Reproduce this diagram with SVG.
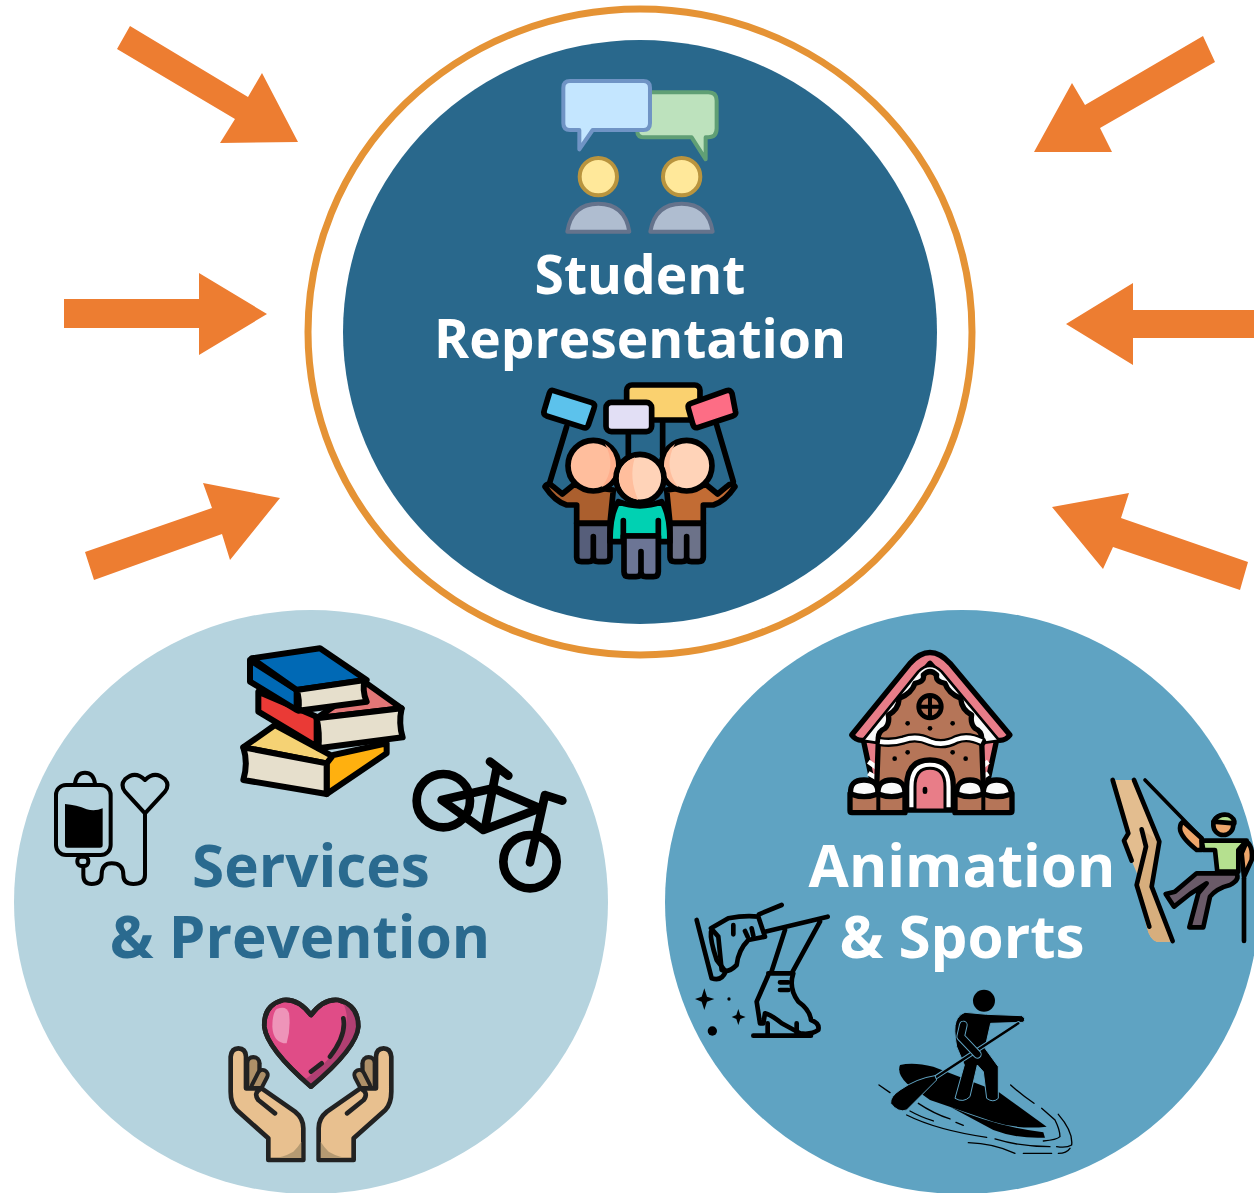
<svg xmlns="http://www.w3.org/2000/svg" width="1254" height="1193" viewBox="0 0 1254 1193">
<style>
text{font-family:"Open Sans","Noto Sans","Liberation Sans",sans-serif;font-weight:700;text-anchor:middle;font-size:58.4px}
.t{font-size:53.3px}
.w{fill:#fff}.d{fill:#2a6a8f}
.a{fill:#ed7d31}
.l{stroke:#000;stroke-linecap:round;stroke-linejoin:round;fill:none}
.f{stroke:#000;stroke-linecap:round;stroke-linejoin:round}
</style>
<rect width="1254" height="1193" fill="#fff"/>
<g id="connectors">
<polygon class="a" points="130,26 248,97 262,73 298,142 220,143 235,119 117,49"/>
<polygon class="a" points="64,299 199,299 199,273 267,314 199,355 199,328 64,328"/>
<polygon class="a" points="85,552 212,508 203,483 280,498 230,560 222,534 94,580"/>
<polygon class="a" points="1203,36 1215,62 1100,128 1112,152 1034,152 1072,83 1085,105"/>
<polygon class="a" points="1254,310 1133,310 1133,283 1066,324 1133,365 1133,338 1254,338"/>
<polygon class="a" points="1248,562 1240,590 1113,547 1103,569 1052,507 1129,493 1121,518"/>
</g>
<g id="student-representation">
<ellipse cx="640" cy="332" rx="332" ry="323" fill="#fff" stroke="#e59335" stroke-width="7"/>
<ellipse cx="640" cy="332" rx="297" ry="292" fill="#29688c"/>
<g id="icon-chat" transform="translate(530 60) scale(.3333)" stroke-linejoin="round">
<path d="M345 97H535Q560 97 560 122V205Q560 232 535 232H527V298L485 232H345Q322 232 322 215V110Q322 97 345 97Z" fill="#bde2bd" stroke="#609f75" stroke-width="12"/>
<path d="M120 63H340Q360 63 360 83V190Q360 210 340 210H188L148 268V210H120Q100 210 100 190V83Q100 63 120 63Z" fill="#c4e6ff" stroke="#7094c5" stroke-width="12"/>
<circle cx="205" cy="350" r="56" fill="#ffe89a" stroke="#b9943e" stroke-width="12"/>
<circle cx="455" cy="350" r="56" fill="#ffe89a" stroke="#b9943e" stroke-width="12"/>
<path d="M112 515Q125 431 205 431Q285 431 298 515Z" fill="#afbdd0" stroke="#65738c" stroke-width="12"/>
<path d="M361 515Q375 431 455 431Q535 431 548 515Z" fill="#afbdd0" stroke="#65738c" stroke-width="12"/>
</g>
<g id="icon-protest" transform="translate(530 370) scale(.3333)" stroke-width="17">
<path class="l" d="M110 170L60 335M295 185V255M398 150V255M560 165L610 335"/>
<rect class="f" x="290" y="45" width="220" height="105" rx="16" fill="#fad16f"/>
<path class="f" d="M70 62L185 98Q197 103 192 115L175 165Q170 177 158 172L50 138Q38 133 43 120L58 70Q62 58 70 62Z" fill="#5cc2ec"/>
<rect class="f" x="228" y="97" width="137" height="88" rx="16" fill="#e2dff5"/>
<path class="f" d="M483 100L590 62Q602 58 606 70L616 122Q620 134 608 138L505 172Q493 176 489 164L475 115Q472 104 483 100Z" fill="#fd6d85"/>
<path class="f" d="M45 350Q55 335 70 350L97 372L130 345L250 360L240 460H140V405H110Q75 395 45 350Z" fill="#ab5f2e"/>
<path class="f" d="M615 350Q605 335 590 350L563 372L530 345L410 360L420 460H520V405H550Q585 395 615 350Z" fill="#c26c34"/>
<path class="f" d="M140 460H240V562Q240 575 225 575H205Q190 575 190 562V500V562Q190 575 175 575H155Q140 575 140 562Z" fill="#565e7a"/>
<path class="f" d="M420 460H520V562Q520 575 505 575H485Q470 575 470 562V500V562Q470 575 455 575H435Q420 575 420 562Z" fill="#6c7289"/>
<circle class="f" cx="190" cy="287" r="76" fill="#ffbe9d"/>
<path d="M225 222Q262 290 215 352Q258 330 258 287Q258 245 225 222Z" fill="#ffae8c"/>
<circle class="f" cx="470" cy="287" r="76" fill="#ffd3b8"/>
<path d="M435 222Q398 290 445 352Q402 330 402 287Q402 245 435 222Z" fill="#ffbe9d"/>
<path class="f" d="M265 395Q330 420 395 395Q420 430 420 515H385V498H280V515H240Q240 430 265 395Z" fill="#00d1b2"/>
<path class="l" d="M280 452V510M385 452V510"/>
<path class="f" d="M282 498H385V605Q385 620 370 620H348Q333 620 333 605V545V605Q333 620 318 620H297Q282 620 282 605Z" fill="#6c7595"/>
<circle class="f" cx="330" cy="325" r="72" fill="#ffd3b8"/>
<path d="M315 262Q295 325 325 390Q268 375 268 325Q268 280 315 262Z" fill="#ffbe9d"/>
</g>
<text class="w t" x="640" y="294">Student</text>
<text class="w t" x="640" y="358">Representation</text>
</g>
<g id="services-prevention">
<ellipse cx="311" cy="902" rx="297" ry="292" fill="#b5d3de"/>
<g id="icon-books" transform="translate(220 640) scale(.3333)" stroke-width="18">
<path class="f" d="M70 322L165 255L340 350L320 370Z" fill="#f5d274"/>
<path class="f" d="M320 370L340 345L500 310V340L320 462Z" fill="#ffb00f"/>
<path class="f" d="M70 322L320 370V462L70 420Q85 370 70 322Z" fill="#e6dfcc"/>
<path class="f" d="M115 155V215L290 320V230Z" fill="#ea3a36"/>
<path class="f" d="M290 235L440 130L545 205Z" fill="#e27677"/>
<path class="f" d="M290 235L545 205Q535 250 548 292L295 325Q300 280 290 235Z" fill="#e6dfcc"/>
<path class="f" d="M90 60L230 150V210L90 125Z" fill="#0069b5"/>
<path class="f" d="M95 55L300 25L440 120L230 150Z" fill="#0069b5"/>
<path class="f" d="M230 150L435 120Q425 150 440 185L235 212Q240 180 230 150Z" fill="#e6dfcc"/>
</g>
<g id="icon-iv" transform="translate(40 750) scale(.3333)">
<g class="l" stroke-width="12">
<rect x="48" y="105" width="164" height="210" rx="30"/>
<path d="M105 100Q110 68 135 68Q160 68 165 100"/>
<rect x="112" y="320" width="33" height="28" rx="12"/>
<path d="M130 348V375Q130 402 155 402Q185 402 185 375Q185 340 215 340Q250 340 250 375Q250 402 280 402Q315 402 315 375V190"/>
<path d="M315 190L255 125Q240 105 255 88Q285 60 315 90Q345 60 375 88Q390 105 375 125Z"/>
</g>
<path d="M75 162Q110 165 140 178Q165 185 188 175V285Q188 293 180 293H83Q75 293 75 285Z"/>
</g>
<g id="icon-bike" class="l" transform="translate(400 745) scale(.3333)" stroke-width="26">
<circle cx="130" cy="167" r="80"/>
<circle cx="390" cy="350" r="80"/>
<path d="M125 165L280 130L420 190L250 255Z"/>
<path d="M270 50L325 92M290 70L255 250M435 150L390 352M435 150L487 167"/>
</g>
<g id="icon-hands" transform="translate(215 985) scale(.3333)" stroke="#222" stroke-width="14" stroke-linecap="round" stroke-linejoin="round">
<path d="M288 90Q250 40 205 45Q145 60 148 125Q155 190 288 305Q425 190 430 125Q430 60 370 45Q325 40 288 90Z" fill="#e04c87"/>
<path d="M385 55Q425 70 428 125Q420 190 288 305L268 285Q400 190 395 90Q392 70 385 55Z" fill="#b13f72" stroke="none"/>
<path d="M185 72Q215 60 222 85Q228 130 215 175Q175 175 172 125Q172 85 185 72Z" fill="#ee94b9" stroke="none"/>
<path d="M288 90Q250 40 205 45Q145 60 148 125Q155 190 288 305Q425 190 430 125Q430 60 370 45Q325 40 288 90Z" fill="none"/>
<path d="M385 100Q395 150 345 215M320 235L288 260" fill="none"/>
<g id="fingers-left"><path d="M115 235V300" stroke-width="50" stroke="#222"/><path d="M115 235V300" stroke-width="24" stroke="#ae9068"/><path d="M143 270L125 305" stroke-width="42" stroke="#222"/><path d="M143 270L125 305" stroke-width="18" stroke="#ae9068"/></g>
<g id="fingers-right"><path d="M461 235V300" stroke-width="50" stroke="#222"/><path d="M461 235V300" stroke-width="24" stroke="#ae9068"/><path d="M433 270L451 305" stroke-width="42" stroke="#222"/><path d="M433 270L451 305" stroke-width="18" stroke="#ae9068"/></g>
<path d="M160 525V460L65 375Q47 355 47 320V215Q50 190 70 190Q92 190 93 215V310L140 310L240 380Q265 400 265 430V525Z" fill="#e8c08f"/>
<path d="M180 385L130 345Q115 325 135 313" fill="none"/>
<path d="M168 519Q200 520 235 500Q250 485 259 470V519Z" fill="#b59a72" stroke="none"/>
<path d="M416 525V460L511 375Q529 355 529 320V215Q526 190 506 190Q484 190 483 215V310L436 310L336 380Q311 400 311 430V525Z" fill="#e8c08f"/>
<path d="M396 385L446 345Q461 325 441 313" fill="none"/>
<path d="M408 519Q376 520 341 500Q326 485 317 470V519Z" fill="#b59a72" stroke="none"/>
</g>
<text class="d" x="311" y="887">Services</text>
<text class="d" x="300" y="958">&amp; Prevention</text>
</g>
<g id="animation-sports">
<ellipse cx="962" cy="902" rx="297" ry="292" fill="#5fa3c2"/>
<g id="icon-house" transform="translate(840 640) scale(.3333)" stroke-width="16">
<path class="f" d="M70 300L100 440H440L470 300Z" fill="#e87d88"/>
<path d="M85 365L120 390M85 400L120 420M445 365L415 390M445 400L415 420" stroke="#fff" stroke-width="14"/>
<path class="f" d="M35 285L210 70Q270 5 330 70L510 285Q495 305 470 300L270 70L75 300Q50 305 35 285Z" fill="#e87d88"/>
<path d="M68 302L235 95Q270 60 305 95L478 302L420 310H120Z" fill="#fafafa" stroke="#000" stroke-width="8" stroke-linejoin="round"/>
<path class="f" d="M115 300Q112 275 135 265Q150 250 145 225Q175 210 178 175Q215 160 225 130Q255 125 250 105Q270 85 290 105Q285 125 315 130Q325 160 362 175Q365 210 395 225Q390 250 405 265Q428 275 425 300L432 500H108Z" fill="#b57558"/>
<path class="l" d="M120 305Q160 310 190 300Q230 285 270 305Q310 320 350 298Q385 285 425 305" stroke-width="28"/>
<path d="M120 305Q160 310 190 300Q230 285 270 305Q310 320 350 298Q385 285 425 305" fill="none" stroke="#fff" stroke-width="14"/>
<circle class="l" cx="270" cy="200" r="34" fill="#fff" stroke-width="14"/>
<path d="M270 166V234M236 200H304" stroke="#000" stroke-width="12"/>
<g><circle cx="203" cy="250" r="7"/><circle cx="338" cy="250" r="7"/><circle cx="270" cy="265" r="7"/><circle cx="203" cy="337" r="7"/><circle cx="338" cy="337" r="7"/><circle cx="164" cy="356" r="7"/><circle cx="377" cy="356" r="7"/></g>
<path class="f" d="M200 510V440Q200 360 270 360Q340 360 340 440V510Z" fill="#fff"/>
<path class="f" d="M225 510V440Q225 385 270 385Q315 385 315 440V510Z" fill="#e87d88" stroke-width="9"/>
<rect x="248" y="440" width="14" height="22" rx="7"/>
<path class="f" d="M30 460V512Q30 518 36 518H195V460ZM345 460V518H510Q516 518 516 512V460Z" fill="#b57558"/>
<path d="M115 470V515M430 470V515" stroke="#000" stroke-width="12"/>
<path class="f" d="M32 462Q28 420 72 420Q116 420 114 462Q72 478 32 462Z" fill="#fafafa"/>
<path class="f" d="M114 462Q112 420 155 420Q196 420 195 462Q155 478 114 462Z" fill="#fafafa"/>
<path class="f" d="M350 462Q349 420 390 420Q431 420 430 462Q390 478 350 462Z" fill="#fafafa"/>
<path class="f" d="M430 462Q429 420 470 420Q512 420 514 462Q470 478 430 462Z" fill="#fafafa"/>
</g>
<g id="icon-climber" transform="translate(1100 770) scale(.3333)" stroke-width="14">
<path d="M45 30H100L178 215L155 350L215 515H170Q150 510 140 470L110 345L115 320L95 272L72 212L85 190Z" fill="#e3bd8f"/>
<path d="M125 178L178 215L155 350L215 515H170Q150 510 140 470L110 345L138 230Z" fill="#d7ae7d"/>
<path class="l" d="M38 30L85 190L72 212L95 272M102 30L178 215L155 350L218 513M125 178L138 230L110 345L148 470"/>
<path class="l" d="M135 30L305 205" stroke-width="11"/>
<path class="f" d="M250 155L305 205V240H290Q240 200 240 175Q240 160 250 155Z" fill="#eea66b"/>
<path class="f" d="M305 212H440L415 240V305H352L345 240H310Z" fill="#b5e08f"/>
<path class="f" d="M440 215Q460 230 455 270L432 320L425 250Z" fill="#eea66b"/>
<path class="f" d="M290 310H410Q420 330 390 345Q350 355 330 380L310 472H268L295 370L320 340L270 372L222 410L197 372L225 365Z" fill="#6a5a68"/>
<path class="l" d="M432 325V513"/>
<circle class="f" cx="370" cy="165" r="30" fill="#eea66b"/>
<path class="f" d="M340 155Q355 130 385 135Q405 145 403 160Z" fill="#b5e08f"/>
</g>
<g id="icon-skater" class="l" transform="translate(685 895) scale(.3333)" stroke-width="14">
<path d="M35 75L80 250Q110 260 122 230L95 195Q75 135 78 110"/>
<path d="M78 100L130 70Q180 60 220 65L240 125L190 135Q160 165 155 210Q130 235 110 225L100 125Z"/>
<path d="M222 58L290 30M240 110L428 65M405 80L320 235M300 105L258 235M250 235H325Q310 280 340 320Q375 345 378 375Q405 385 400 405Q380 420 345 415L290 385Q260 360 240 355L235 385H225L215 320L250 240"/>
<path d="M285 262H310M285 285H310M205 422H378M248 385V420M335 385V420M145 90V118M180 108L188 125M200 100L205 122"/>
<path d="M58 280L66 305L88 312L66 320L58 345L50 320L30 312L50 305Z" fill="#000" stroke="none"/>
<path d="M160 342L166 360L182 366L166 372L160 390L154 372L140 366L154 360Z" fill="#000" stroke="none"/>
<circle cx="132" cy="312" r="5" fill="#000" stroke="none"/>
<circle cx="82" cy="408" r="14" fill="#000" stroke="none"/>
</g>
<g id="icon-paddleboard" transform="translate(870 985) scale(.3333)">
<path d="M90 240Q130 230 190 245L385 320L530 425Q450 435 370 410L180 345L110 295Q80 265 90 240Z"/>
<path d="M240 365Q380 425 520 442L525 458Q440 462 370 435Z"/>
<circle cx="342" cy="47" r="33"/>
<path d="M285 82L350 88L455 92Q470 100 460 112L362 115L345 190L385 245V340Q370 355 350 340L340 260L322 240L300 335Q280 355 255 340L283 240L260 185Q250 130 258 110Q265 90 285 82Z" stroke="#5fa3c2" stroke-width="3"/>
<path d="M445 115L200 275" stroke="#5fa3c2" stroke-width="13" stroke-linecap="round"/>
<path d="M445 115L200 275" stroke="#000" stroke-width="7" stroke-linecap="round"/>
<path d="M280 120L272 155L322 208" fill="none" stroke="#5fa3c2" stroke-width="26" stroke-linecap="round" stroke-linejoin="round"/>
<path d="M280 120L272 155L322 208" fill="none" stroke="#000" stroke-width="20" stroke-linecap="round" stroke-linejoin="round"/>
<path d="M195 272Q140 280 90 315Q60 335 62 355Q85 385 110 375L200 285Z" stroke="#5fa3c2" stroke-width="3"/>
<g fill="none" stroke="#000" stroke-width="4" stroke-linecap="round">
<path d="M27 300L60 323M120 378Q150 395 190 408M110 390Q200 435 350 457M145 355Q190 385 240 402M258 412L280 421M422 300Q455 330 492 355M515 370L555 405Q570 435 570 455Q560 465 520 468M565 388Q610 440 605 480Q590 490 560 485M375 462Q450 485 540 485M295 473Q370 475 435 505M460 505H545M565 505Q590 505 600 490"/>
</g>
</g>
<text class="w" x="962" y="887">Animation</text>
<text class="w" x="962" y="958">&amp; Sports</text>
</g>
</svg>
